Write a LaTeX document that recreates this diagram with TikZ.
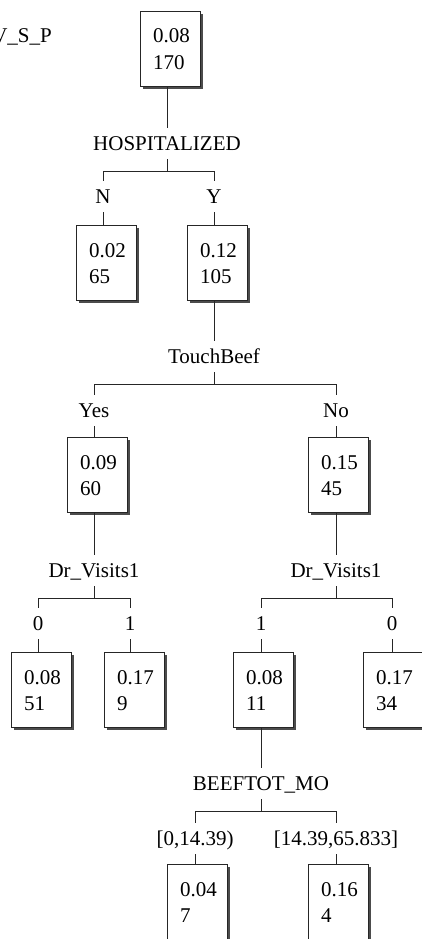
\documentclass[tikz,border=0pt]{standalone}
\usepackage{fontspec}
\setmainfont{Liberation Serif}
\usetikzlibrary{shadows,calc}
\begin{document}
\begin{tikzpicture}[x=1pt,y=-1pt]
\tikzset{
  wire/.style={draw=black!85, line width=0.9pt},
  treebox/.style={draw=black!85, line width=0.9pt, fill=white,
    minimum width=60pt, minimum height=75pt, inner sep=0pt, anchor=north west,
    drop shadow={shadow xshift=3pt, shadow yshift=-3pt, fill=black!70, opacity=1}},
  vals/.style={anchor=base west, inner sep=0pt, font=\fontsize{21}{26.5}\selectfont},
  lab/.style={anchor=base, inner xsep=0pt, inner ysep=8pt, text height=14pt,
    text depth=1pt, font=\fontsize{21}{25}\selectfont},
}
\useasboundingbox (0,0) rectangle (422,939);
\clip (0,0) rectangle (422,939);

% variable name at the top left
\node[anchor=base east, inner sep=0pt, font=\fontsize{21}{25}\selectfont] (vsp) at (52,43) {V\_S\_P};

% boxes
\node[treebox] (root) at (140,11) {};
\node[treebox] (bn) at (76,225) {};
\node[treebox] (by) at (187,225) {};
\node[treebox] (byes) at (67,437) {};
\node[treebox] (bno) at (308,437) {};
\node[treebox] (bl0) at (11,652) {};
\node[treebox] (bl1) at (104,652) {};
\node[treebox] (br1) at (233,652) {};
\node[treebox] (br0) at (363,652) {};
\node[treebox] (bb0) at (167,864) {};
\node[treebox] (bb1) at (308,864) {};

% box contents: proportion and count
\node[vals] (root-v) at ($(root.north west)+(13,32)$) {\begin{tabular}[t]{@{}l@{}}0.08\\170\end{tabular}};
\node[vals] (bn-v) at ($(bn.north west)+(13,32)$) {\begin{tabular}[t]{@{}l@{}}0.02\\65\end{tabular}};
\node[vals] (by-v) at ($(by.north west)+(13,32)$) {\begin{tabular}[t]{@{}l@{}}0.12\\105\end{tabular}};
\node[vals] (byes-v) at ($(byes.north west)+(13,32)$) {\begin{tabular}[t]{@{}l@{}}0.09\\60\end{tabular}};
\node[vals] (bno-v) at ($(bno.north west)+(13,32)$) {\begin{tabular}[t]{@{}l@{}}0.15\\45\end{tabular}};
\node[vals] (bl0-v) at ($(bl0.north west)+(13,32)$) {\begin{tabular}[t]{@{}l@{}}0.08\\51\end{tabular}};
\node[vals] (bl1-v) at ($(bl1.north west)+(13,32)$) {\begin{tabular}[t]{@{}l@{}}0.17\\9\end{tabular}};
\node[vals] (br1-v) at ($(br1.north west)+(13,32)$) {\begin{tabular}[t]{@{}l@{}}0.08\\11\end{tabular}};
\node[vals] (br0-v) at ($(br0.north west)+(13,32)$) {\begin{tabular}[t]{@{}l@{}}0.17\\34\end{tabular}};
\node[vals] (bb0-v) at ($(bb0.north west)+(13,32)$) {\begin{tabular}[t]{@{}l@{}}0.04\\7\end{tabular}};
\node[vals] (bb1-v) at ($(bb1.north west)+(13,32)$) {\begin{tabular}[t]{@{}l@{}}0.16\\4\end{tabular}};

% split variables
\node[lab] (s-hosp) at (167,150) {HOSPITALIZED};
\node[lab] (s-touch) at (214,363) {TouchBeef};
\node[lab] (s-drl) at (94,577) {Dr\_Visits1};
\node[lab] (s-drr) at (336,577) {Dr\_Visits1};
\node[lab] (s-beef) at (261,790) {BEEFTOT\_MO};

% branch values
\node[lab] (l-n) at (103,203) {N};
\node[lab] (l-y) at (214,203) {Y};
\node[lab] (l-yes) at (94,417) {Yes};
\node[lab] (l-no) at (336,417) {No};
\node[lab] (l-l0) at (38,630) {0};
\node[lab] (l-l1) at (130,630) {1};
\node[lab] (l-r1) at (261,630) {1};
\node[lab] (l-r0) at (392,630) {0};
\node[lab] (l-b0) at (195,845) {[0,14.39)};
\node[lab] (l-b1) at (336,845) {[14.39,65.833]};

% parent box to split variable
\draw[wire] (root.south -| s-hosp.north) -- (s-hosp.north);
\draw[wire] (by.south -| s-touch.north) -- (s-touch.north);
\draw[wire] (byes.south -| s-drl.north) -- (s-drl.north);
\draw[wire] (bno.south -| s-drr.north) -- (s-drr.north);
\draw[wire] (br1.south -| s-beef.north) -- (s-beef.north);

% forks
\draw[wire] (s-hosp.south) -- ++(0,12) coordinate (j-hosp);
\draw[wire] (l-n.north) |- (j-hosp) -| (l-y.north);
\draw[wire] (s-touch.south) -- ++(0,12) coordinate (j-touch);
\draw[wire] (l-yes.north) |- (j-touch) -| (l-no.north);
\draw[wire] (s-drl.south) -- ++(0,12) coordinate (j-drl);
\draw[wire] (l-l0.north) |- (j-drl) -| (l-l1.north);
\draw[wire] (s-drr.south) -- ++(0,12) coordinate (j-drr);
\draw[wire] (l-r1.north) |- (j-drr) -| (l-r0.north);
\draw[wire] (s-beef.south) -- ++(0,12) coordinate (j-beef);
\draw[wire] (l-b0.north) |- (j-beef) -| (l-b1.north);

% branch value to child box
\draw[wire] (l-n.south) -- (l-n.south |- bn.north);
\draw[wire] (l-y.south) -- (l-y.south |- by.north);
\draw[wire] (l-yes.south) -- (l-yes.south |- byes.north);
\draw[wire] (l-no.south) -- (l-no.south |- bno.north);
\draw[wire] (l-l0.south) -- (l-l0.south |- bl0.north);
\draw[wire] (l-l1.south) -- (l-l1.south |- bl1.north);
\draw[wire] (l-r1.south) -- (l-r1.south |- br1.north);
\draw[wire] (l-r0.south) -- (l-r0.south |- br0.north);
\draw[wire] (l-b0.south) -- (l-b0.south |- bb0.north);
\draw[wire] (l-b1.south) -- (l-b1.south |- bb1.north);
\end{tikzpicture}
\end{document}
